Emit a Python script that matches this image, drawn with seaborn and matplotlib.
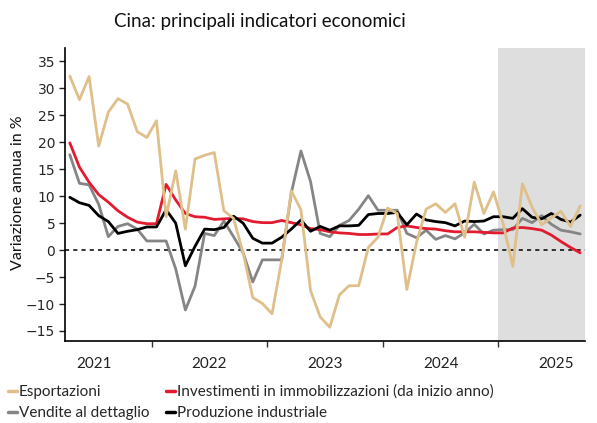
import numpy as np
import pandas as pd
import matplotlib
matplotlib.use("Agg")
import matplotlib.pyplot as plt
import seaborn as sns
from matplotlib.lines import Line2D

# monthly data, Apr 2021 - Sep 2025
months = pd.period_range("2021-04", "2025-09", freq="M")

esportazioni = [32.3, 27.9, 32.2, 19.3, 25.6, 28.1, 27.1, 22.0, 20.9,
                24.0, 6.2, 14.7, 3.9, 16.9, 17.6, 18.1, 7.3, 5.9, -0.5, -8.8, -9.9,
                -11.8, -1.9, 11.0, 7.5, -7.5, -12.4, -14.3, -8.3, -6.6, -6.6, 0.5, 2.4,
                7.8, 6.8, -7.3, 1.4, 7.6, 8.6, 7.0, 8.6, 2.4, 12.6, 6.8, 10.8,
                4.9, -3.0, 12.3, 8.0, 4.7, 6.0, 7.2, 4.4, 8.2]
investimenti = [19.9, 15.4, 12.6, 10.3, 8.9, 7.3, 6.1, 5.2, 4.9,
                4.9, 12.2, 9.3, 6.8, 6.2, 6.1, 5.7, 5.8, 5.9, 5.8, 5.3, 5.1,
                5.1, 5.5, 5.1, 4.7, 4.0, 3.8, 3.4, 3.2, 3.1, 2.9, 2.9, 3.0,
                3.0, 4.2, 4.5, 4.2, 4.0, 3.9, 3.6, 3.4, 3.4, 3.4, 3.3, 3.2,
                3.2, 4.1, 4.2, 4.0, 3.7, 2.8, 1.6, 0.5, -0.5]
vendite = [17.7, 12.4, 12.1, 8.5, 2.5, 4.4, 4.9, 3.9, 1.7,
           1.7, 1.7, -3.5, -11.1, -6.7, 3.1, 2.7, 5.4, 2.5, -0.5, -5.9, -1.8,
           -1.8, -1.8, 10.6, 18.4, 12.7, 3.1, 2.5, 4.6, 5.5, 7.6, 10.1, 7.4,
           7.4, 7.4, 3.1, 2.3, 3.7, 2.0, 2.7, 2.1, 3.2, 4.8, 3.0, 3.7,
           3.8, 3.8, 5.9, 5.1, 6.4, 4.8, 3.7, 3.4, 3.0]
produzione = [9.8, 8.8, 8.3, 6.4, 5.3, 3.1, 3.5, 3.8, 4.3,
              4.3, 7.5, 5.0, -2.9, 0.7, 3.9, 3.8, 4.2, 6.3, 5.0, 2.2, 1.3,
              1.3, 2.4, 3.9, 5.6, 3.5, 4.4, 3.7, 4.5, 4.5, 4.6, 6.6, 6.8,
              6.8, 7.0, 4.7, 6.7, 5.6, 5.3, 5.1, 4.5, 5.4, 5.3, 5.4, 6.2,
              6.2, 5.9, 7.7, 6.1, 5.8, 6.8, 5.7, 5.2, 6.5]

years = [2021, 2022, 2023, 2024, 2025]

names = ["Esportazioni", "Investimenti in immobilizzazioni (da inizio anno)",
         "Vendite al dettaglio", "Produzione industriale"]
colors = ["#DFBF8A", "#E31B2F", "#858585", "#000000"]
palette = dict(zip(names, colors))

t = np.arange(len(months))
df = pd.DataFrame({"t": t, names[0]: esportazioni, names[1]: investimenti,
                   names[2]: vendite, names[3]: produzione})
long = df.melt(id_vars="t", var_name="serie", value_name="valore")

# position of January of each year on the month axis
start = months[0]
jan = [(pd.Period(f"{y}-01", freq="M") - start).n for y in years]

sns.set_style("ticks")
plt.rcParams["font.family"] = ["Lato", "DejaVu Sans"]

fig = plt.figure(figsize=(5.97, 4.23), dpi=100)
ax = fig.add_axes([65 / 597, 1 - 340.7 / 423, 520 / 597, 292.7 / 423])

ax.axvspan(jan[-1] - 0.5, len(months) - 0.5, color="#DEDEDE", lw=0, zorder=0)
ax.axhline(0, color="black", lw=1.1, ls=(0, (2.7, 2.7)), zorder=1)

sns.lineplot(data=long, x="t", y="valore", hue="serie",
             hue_order=[names[2], names[1], names[3], names[0]],
             palette=palette, lw=2, legend=False, ax=ax, zorder=2)

ax.set_xlim(-0.5, len(months) - 0.5)
ax.set_ylim(-16.8, 37.5)
ax.set_yticks(range(-15, 36, 5))
ax.set_xticks([j + 5.5 for j in jan])
ax.set_xticklabels([str(y) for y in years], fontsize=11, color="#222222")
ax.set_xticks([j - 0.5 for j in jan[1:]], minor=True)
ax.tick_params(axis="x", which="major", length=0, pad=12)
ax.tick_params(axis="x", which="minor", length=4, width=1, color="#333333")
ax.tick_params(axis="y", length=4, width=1, pad=3, labelsize=10, color="#222222")
for lab in ax.get_yticklabels():
    lab.set_fontfamily("DejaVu Sans")
ax.set_xlabel("")
ax.set_ylabel("")
sns.despine(ax=ax)
for s in ["left", "bottom"]:
    ax.spines[s].set_linewidth(1.2)
    ax.spines[s].set_color("black")

fig.text(260 / 597, 1 - 21 / 423, "Cina: principali indicatori economici",
         ha="center", va="center", fontsize=13.5, color="#111111")
fig.text(18 / 597, 1 - 193 / 423, "Variazione annua in %", rotation=90,
         ha="center", va="center", fontsize=11.5, color="#111111")

order = [0, 2, 1, 3]
handles = [Line2D([], [], color=colors[i], lw=2.5) for i in order]
fig.legend(handles, [names[i] for i in order], ncol=2, loc="upper left",
           bbox_to_anchor=(0.014, 0.091), frameon=False, fontsize=11,
           handlelength=0.55, handletextpad=0.15, columnspacing=1.1,
           labelspacing=0.5, borderpad=0, borderaxespad=0)

fig.savefig("out.png", dpi=100)
